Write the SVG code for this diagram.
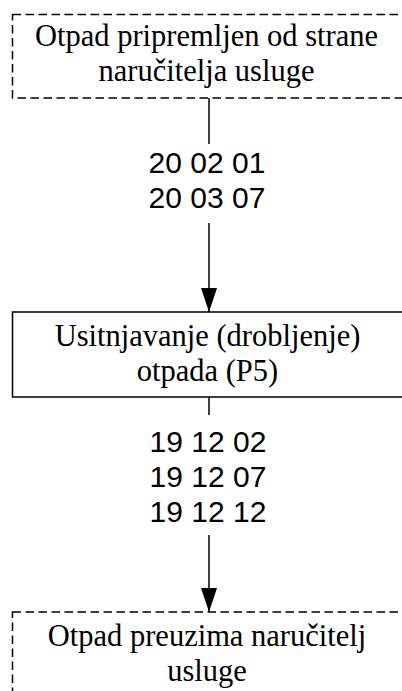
<svg xmlns="http://www.w3.org/2000/svg" width="402" height="691" viewBox="0 0 402 691">
<style>
.box{fill:#fff;stroke:#000;stroke-width:1.5}
.dash{stroke-dasharray:8.5,4.5}
.t{font-family:"Liberation Serif","Times New Roman",serif;font-size:30.5px;fill:#000;text-anchor:middle}
.c{font-family:"Liberation Sans",Arial,sans-serif;font-size:30px;fill:#000;text-anchor:middle}
.ln{stroke:#000;stroke-width:1.5;fill:none}
</style>
<defs>
<marker id="ah" markerWidth="24" markerHeight="16" refX="24" refY="8" orient="auto" markerUnits="userSpaceOnUse" viewBox="0 0 24 16">
<path d="M0,0 L24,8 L0,16 Z" fill="#000"/>
</marker>
</defs>
<g id="connectors">
<line class="ln" x1="209" y1="98" x2="209" y2="144"/>
<line class="ln" x1="209" y1="223" x2="209" y2="312" marker-end="url(#ah)"/>
<line class="ln" x1="209" y1="397" x2="209" y2="415"/>
<line class="ln" x1="209" y1="535" x2="209" y2="612" marker-end="url(#ah)"/>
<text class="c" x="207" y="173">20 02 01</text>
<text class="c" x="207" y="208">20 03 07</text>
<text class="c" x="208" y="452">19 12 02</text>
<text class="c" x="208" y="487">19 12 07</text>
<text class="c" x="208" y="522">19 12 12</text>
</g>
<g id="node-start">
<rect class="box dash" x="12.5" y="14.5" width="394" height="83.5"/>
<text class="t" x="206.5" y="46">Otpad pripremljen od strane</text>
<text class="t" x="206.5" y="81">naručitelja usluge</text>
</g>
<g id="node-process">
<rect class="box" x="12.5" y="312" width="394" height="85"/>
<text class="t" x="207.5" y="346">Usitnjavanje (drobljenje)</text>
<text class="t" x="207.5" y="381">otpada (P5)</text>
</g>
<g id="node-end">
<rect class="box dash" x="12.5" y="612" width="394" height="90"/>
<text class="t" x="207" y="646">Otpad preuzima naručitelj</text>
<text class="t" x="207" y="681">usluge</text>
</g>
</svg>
